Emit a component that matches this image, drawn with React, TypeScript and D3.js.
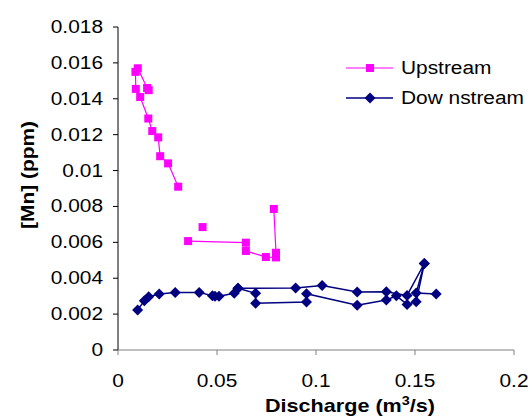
import React from "react";
import * as d3 from "d3";

const xTicks = [0, 0.05, 0.1, 0.15, 0.2];
const xTickLabels = ["0", "0.05", "0.1", "0.15", "0.2"];
const yTicks = [0, 0.002, 0.004, 0.006, 0.008, 0.01, 0.012, 0.014, 0.016, 0.018];
const yTickLabels = ["0", "0.002", "0.004", "0.006", "0.008", "0.01", "0.012", "0.014", "0.016", "0.018"];

// Upstream [discharge, Mn] — segments (gaps in the series)
const upstreamSeg1: [number, number][] = [
  [0.0155, 0.01448], [0.0147, 0.0146], [0.0100, 0.0157], [0.0088, 0.0155],
  [0.0090, 0.01455], [0.0112, 0.0141], [0.0153, 0.0129], [0.0173, 0.0122],
  [0.0203, 0.01185], [0.0213, 0.0108], [0.0253, 0.0104], [0.0304, 0.0091],
];
const upstreamSeg2: [number, number][] = [
  [0.0354, 0.00607], [0.0646, 0.00598], [0.0646, 0.00552], [0.0747, 0.00518],
  [0.0798, 0.00516], [0.0798, 0.00542], [0.0787, 0.00786],
];
const upstreamSeg3: [number, number][] = [[0.0427, 0.00685]];

// Downstream [discharge, Mn]
const downstreamSeg1: [number, number][] = [
  [0.0099, 0.00223], [0.0133, 0.00275], [0.0155, 0.00297], [0.0208, 0.00312],
  [0.0289, 0.00321], [0.041, 0.00321], [0.0477, 0.00302], [0.049, 0.003],
  [0.051, 0.003], [0.0587, 0.00316], [0.0606, 0.00344], [0.0897, 0.00345],
  [0.1031, 0.0036], [0.1208, 0.00323], [0.1355, 0.00325], [0.146, 0.00304],
  [0.1547, 0.00482], [0.1506, 0.00318], [0.1607, 0.00312],
];
const downstreamSeg2: [number, number][] = [
  [0.0606, 0.00344], [0.0695, 0.00316], [0.0695, 0.0026], [0.0952, 0.00267],
  [0.0952, 0.00314], [0.1208, 0.00249], [0.1355, 0.00279], [0.1406, 0.00302],
  [0.146, 0.00254], [0.1506, 0.00269], [0.1547, 0.00482],
];

const upstreamSegments = [upstreamSeg1, upstreamSeg2, upstreamSeg3];
const downstreamSegments = [downstreamSeg1, downstreamSeg2];

const UP = "#FF00FF";
const DOWN = "#000080";
const FONT = "Arial, 'Liberation Sans', Helvetica, sans-serif";
const SX = 1.16;

function T({ x, y, anchor = "start", size = 18, weight = "normal", children, rotate = 0 }: any) {
  return (
    <text
      transform={`translate(${x},${y}) rotate(${rotate}) scale(${SX},1)`}
      textAnchor={anchor}
      fontSize={size}
      fontWeight={weight}
      fontFamily={FONT}
      fill="#000"
    >
      {children}
    </text>
  );
}

export default function App() {
  const x = d3.scaleLinear().domain([0, 0.2]).range([118, 514]);
  const y = d3.scaleLinear().domain([0, 0.018]).range([350, 27]);
  const line = d3.line<[number, number]>().x((d) => x(d[0])).y((d) => y(d[1]));
  const sq = 8;
  const dm = 5.5;

  const diamond = (cx: number, cy: number) =>
    `M${cx},${cy - dm}L${cx + dm},${cy}L${cx},${cy + dm}L${cx - dm},${cy}Z`;

  return (
    <svg
      width={532}
      height={417}
      style={{ position: "absolute", left: 0, top: 0, background: "#fff" }}
    >
      <rect width={532} height={417} fill="#fff" />
      {/* axes */}
      <line x1={x(0)} x2={x(0)} y1={y(0.018)} y2={y(0)} stroke="#000" strokeWidth={1} />
      <line x1={x(0)} x2={x(0.2)} y1={y(0)} y2={y(0)} stroke="#808080" strokeWidth={1} />
      {yTicks.map((t, i) => (
        <g key={"y" + i}>
          <line x1={x(0) - 5} x2={x(0)} y1={y(t)} y2={y(t)} stroke="#000" />
          <T x={103} y={y(t) + 6} anchor="end">
            {yTickLabels[i]}
          </T>
        </g>
      ))}
      {xTicks.map((t, i) => (
        <g key={"x" + i}>
          <line x1={x(t)} x2={x(t)} y1={y(0)} y2={y(0) + 5} stroke="#808080" />
          <T x={x(t)} y={387} anchor="middle">
            {xTickLabels[i]}
          </T>
        </g>
      ))}
      {/* axis titles */}
      <T x={34} y={175} anchor="middle" weight="bold" rotate={-90}>
        [Mn] (ppm)
      </T>
      <text
        transform={`translate(350,412) scale(1.2,1)`}
        textAnchor="middle"
        fontSize={18}
        fontWeight="bold"
        fontFamily={FONT}
      >
        Discharge (m<tspan dy={-7} fontSize={12}>3</tspan>
        <tspan dy={7}>/s)</tspan>
      </text>

      {/* downstream */}
      {downstreamSegments.map((s, i) => (
        <path key={"dl" + i} d={line(s) || ""} fill="none" stroke={DOWN} strokeWidth={1.5} />
      ))}
      {downstreamSegments.flat().map((d, i) => (
        <path key={"dm" + i} d={diamond(x(d[0]), y(d[1]))} fill={DOWN} />
      ))}
      {/* upstream */}
      {upstreamSegments.map((s, i) => (
        <path key={"ul" + i} d={line(s) || ""} fill="none" stroke={UP} strokeWidth={1.2} />
      ))}
      {upstreamSegments.flat().map((d, i) => (
        <rect
          key={"um" + i}
          x={x(d[0]) - sq / 2}
          y={y(d[1]) - sq / 2}
          width={sq}
          height={sq}
          fill={UP}
        />
      ))}

      {/* legend */}
      <line x1={346} x2={393} y1={68} y2={68} stroke={UP} strokeWidth={1.2} />
      <rect x={370 - sq / 2} y={68 - sq / 2} width={sq} height={sq} fill={UP} />
      <T x={401} y={74}>Upstream</T>
      <line x1={346} x2={393} y1={98} y2={98} stroke={DOWN} strokeWidth={1.5} />
      <path d={diamond(370, 98)} fill={DOWN} />
      <T x={401} y={104}>Dow nstream</T>
    </svg>
  );
}
